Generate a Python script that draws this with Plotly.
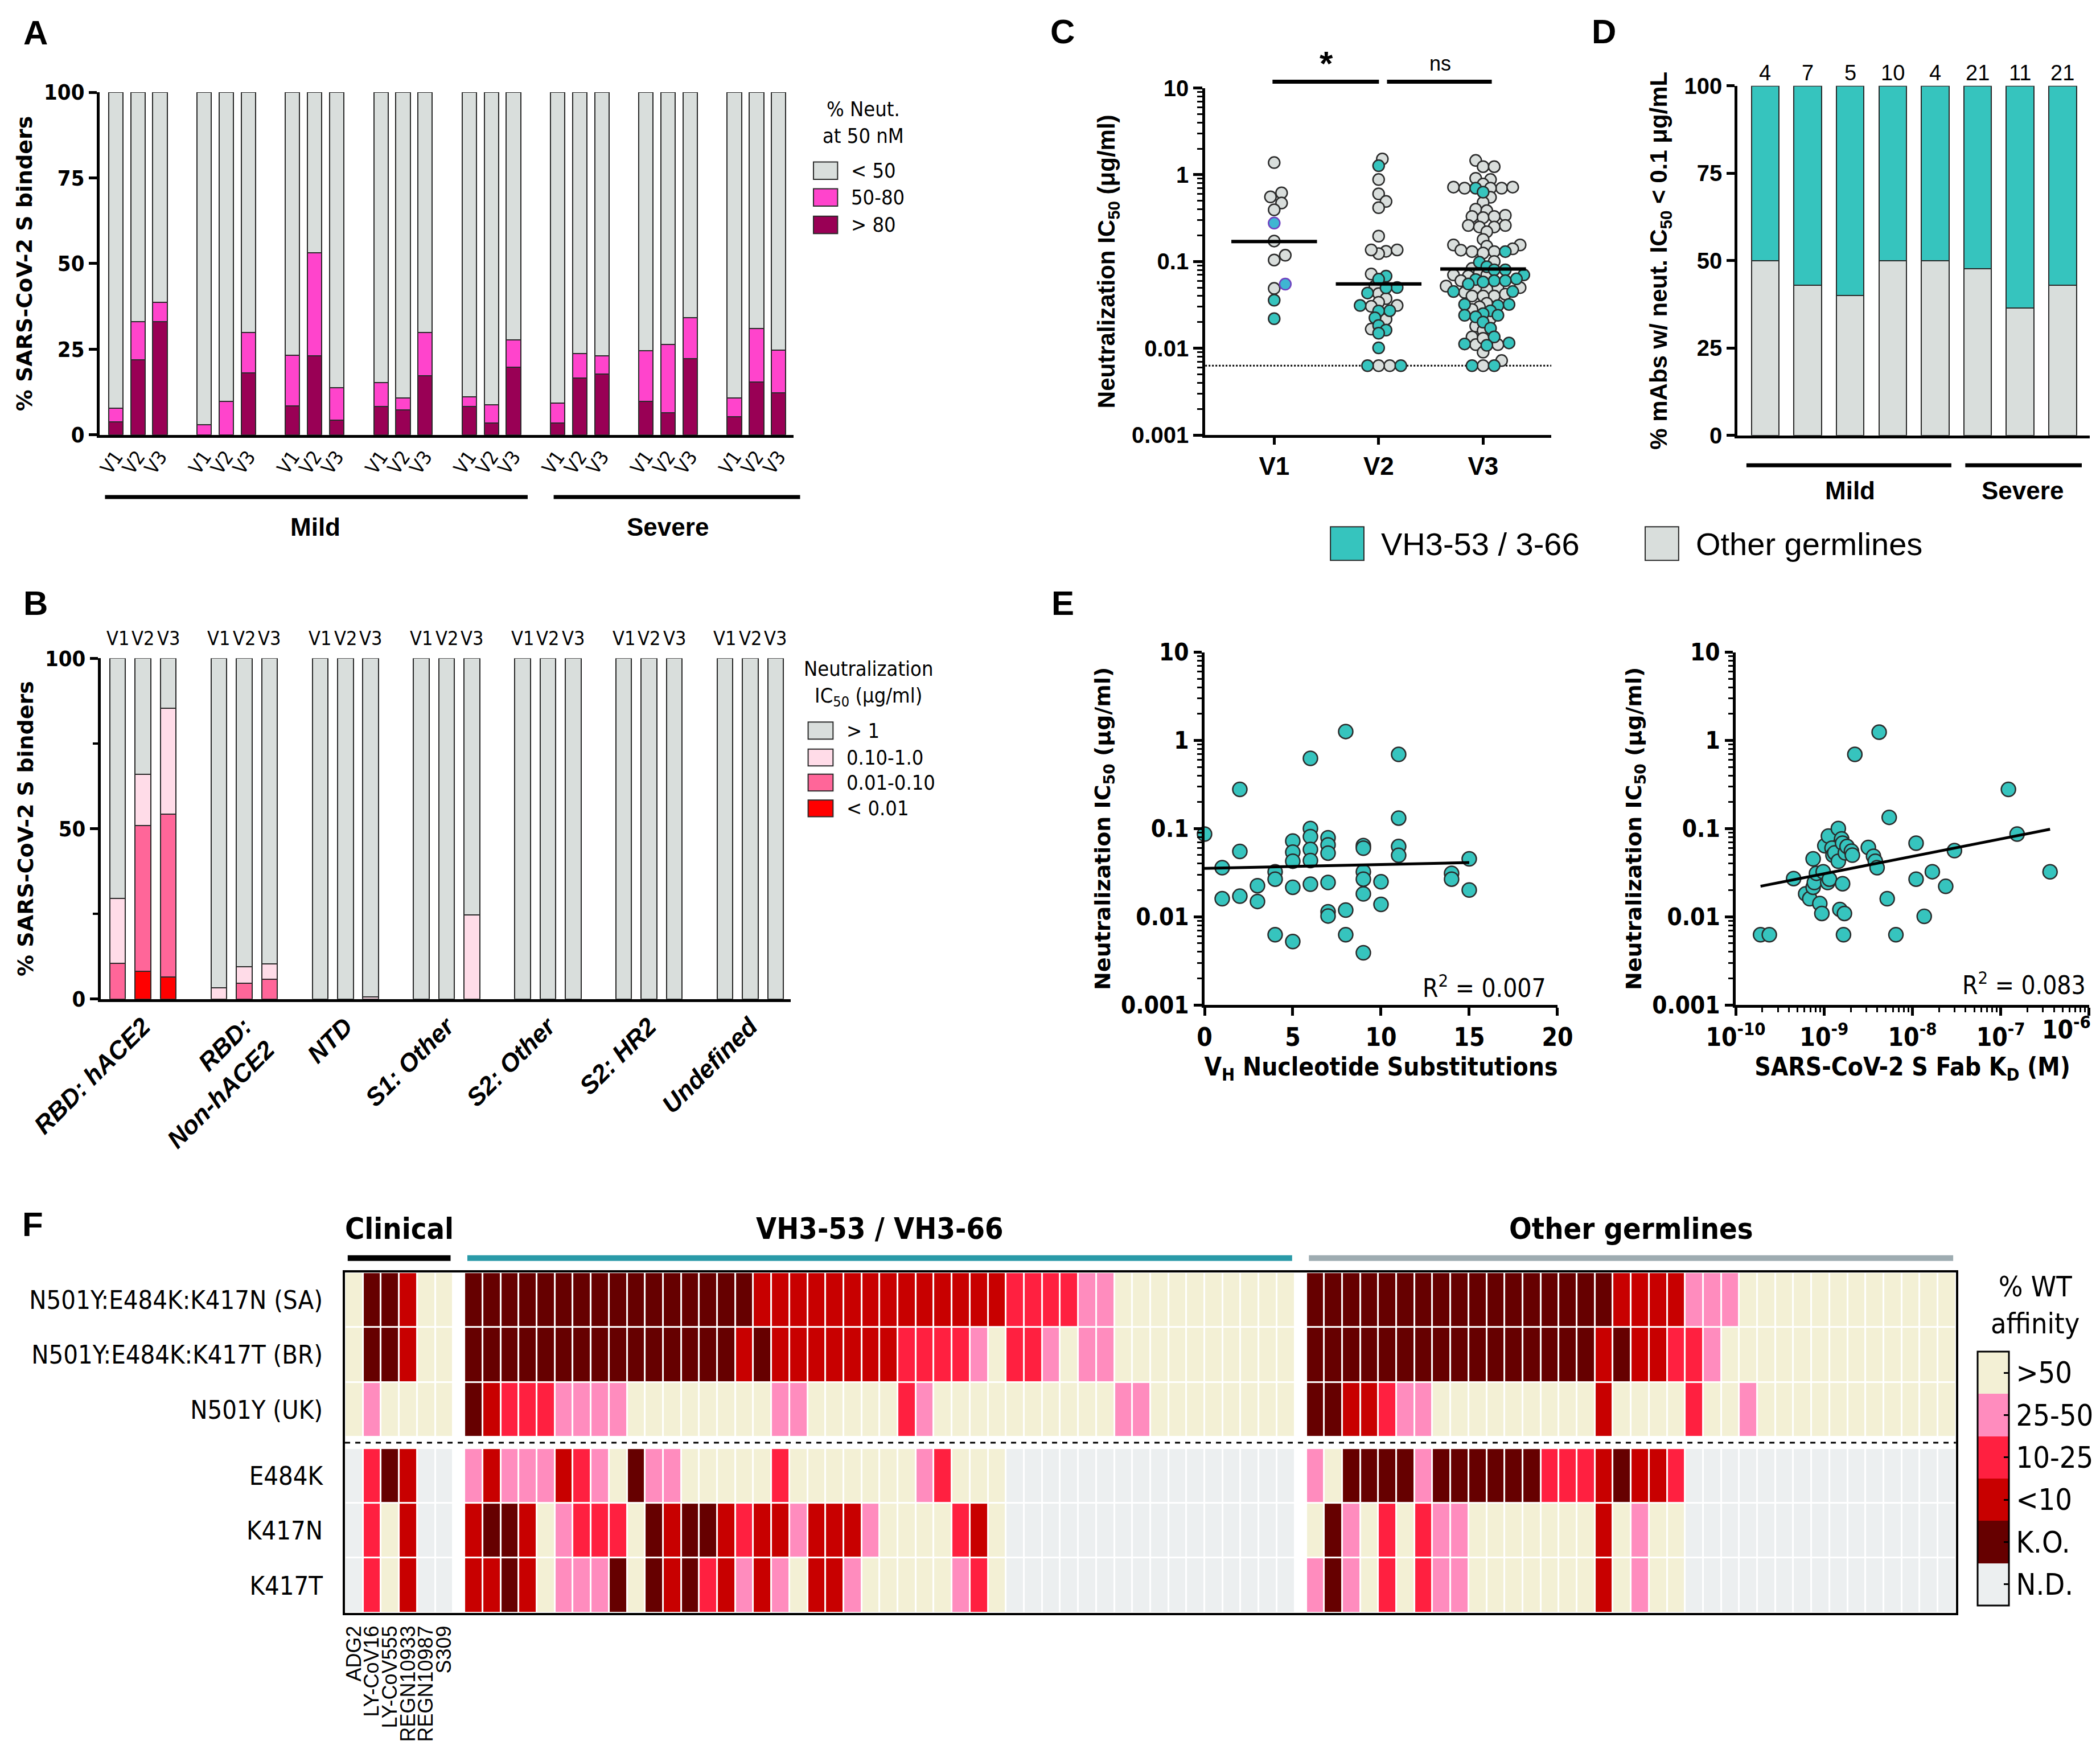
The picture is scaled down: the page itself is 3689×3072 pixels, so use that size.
import numpy as np
import plotly.graph_objects as go

W, H = 3689, 3072
SW, SH = 1568.0, 1306.0


def PX(x):
    return x / SW


def PY(y):
    return 1 - y / SH


COND = "Liberation Sans Narrow, DejaVu Sans Condensed, Arial Narrow, sans-serif"
SANS = "Liberation Sans, Arial, Helvetica, sans-serif"
WIDE = "DejaVu Sans, Verdana, sans-serif"

GREY = "#D9DEDC"
TEAL = "#36C4BE"
EDGE = "#2a2a2a"

# ---------------- Panel A data ----------------
a_visits = ["V1", "V2", "V3"]
a_n_groups = 8
a_gt80 = [3.8, 21.9, 33.1, 0.0, 0.0, 18.0, 8.5, 23.1, 4.3, 8.3, 7.2, 17.2,
          8.2, 3.4, 19.7, 3.5, 16.5, 17.7, 9.8, 6.4, 22.3, 5.2, 15.4, 12.3]
a_50_80 = [3.9, 11.2, 5.6, 2.9, 9.7, 11.8, 14.7, 30.1, 9.4, 6.9, 3.6, 12.6,
           2.9, 5.3, 8.0, 5.7, 7.2, 5.4, 14.8, 20.0, 11.9, 5.6, 15.7, 12.4]
a_colors = {"lt50": GREY, "50-80": "#FF44CC", "gt80": "#990055"}

# ---------------- Panel B data ----------------
b_categories = ["RBD: hACE2", "RBD:<br>Non-hACE2", "NTD", "S1: Other",
                "S2: Other", "S2: HR2", "Undefined"]
b_lt001 = [0, 8.2, 6.4, 0, 0, 0, 0, 0, 0, 0, 0, 0, 0, 0, 0, 0, 0, 0, 0, 0, 0]
b_001_01 = [10.5, 42.7, 47.8, 0, 4.7, 5.8, 0, 0, 0, 0, 0, 0, 0, 0, 0, 0, 0, 0, 0, 0, 0]
b_01_1 = [19.1, 15.0, 31.2, 3.3, 4.8, 4.6, 0, 0, 0.6, 0, 0, 24.7, 0, 0, 0, 0, 0, 0, 0, 0, 0]
b_colors = {"gt1": GREY, "01-1": "#FFDCE8", "001-01": "#FF6699", "lt001": "#FF0000"}

# ---------------- Panel C data ----------------
c_visits = ["V1", "V2", "V3"]
c_grey = [
    [1.38, 0.556, 0.618, 0.472, 0.394, 0.172, 0.118, 0.104, 0.0489],
    [1.52, 0.88, 0.602, 0.492, 0.417, 0.196, 0.131, 0.136, 0.123, 0.136, 0.0718,
     0.0521, 0.0426, 0.0373, 0.0338, 0.0304, 0.0311, 0.0216, 0.0166, 0.0063, 0.0063],
    [1.46, 1.24, 1.24, 0.91, 0.88, 0.72, 0.70, 0.70, 0.78, 0.70, 0.72, 0.55, 0.48,
     0.40, 0.385, 0.34, 0.33, 0.32, 0.33, 0.26, 0.26, 0.25, 0.25, 0.22, 0.18, 0.155,
     0.15, 0.155, 0.14, 0.135, 0.13, 0.13, 0.125, 0.10, 0.083, 0.075, 0.07, 0.07,
     0.068, 0.06, 0.052, 0.05, 0.05, 0.048, 0.05, 0.044, 0.04, 0.042, 0.04, 0.04,
     0.033, 0.03, 0.028, 0.022, 0.018, 0.016, 0.0135, 0.011, 0.011, 0.013, 0.009,
     0.0072, 0.0063],
]
c_teal = [
    [0.0358, 0.0219],
    [1.27, 0.0678, 0.0625, 0.0501, 0.0497, 0.0433, 0.0311, 0.0271, 0.0269, 0.0224,
     0.0183, 0.0162, 0.0149, 0.0101, 0.0063, 0.0063],
    [0.70, 0.63, 0.13, 0.098, 0.087, 0.08, 0.08, 0.07, 0.063, 0.06, 0.06, 0.062,
     0.058, 0.055, 0.045, 0.045, 0.032, 0.032, 0.031, 0.027, 0.025, 0.024, 0.024,
     0.023, 0.02, 0.017, 0.0115, 0.0112, 0.0135, 0.0108, 0.0063, 0.0063],
]
c_blue = [[0.277, 0.0548], [], []]
c_medians = [0.17, 0.055, 0.082]
c_lod = 0.0063

# ---------------- Panel D data ----------------
d_n = [4, 7, 5, 10, 4, 21, 11, 21]
d_other_pct = [50.0, 42.9, 40.0, 50.0, 50.0, 47.6, 36.4, 42.9]

# ---------------- Panel E data ----------------
e_subs = [0, 1, 1, 2, 2, 2, 3, 3, 4, 4, 4, 5, 5, 5, 5, 5, 6, 6, 6, 6, 6, 6, 7, 7, 7, 7,
          7, 7, 8, 8, 8, 9, 9, 9, 9, 9, 9, 10, 10, 11, 11, 11, 11, 14, 14, 15, 15]
e_ic50_subs = [0.0865, 0.036, 0.016, 0.278, 0.055, 0.0171, 0.0225, 0.0149, 0.0324,
               0.0267, 0.00625, 0.0723, 0.054, 0.0426, 0.0216, 0.00524, 0.625, 0.1,
               0.081, 0.058, 0.0434, 0.0234, 0.0787, 0.0653, 0.0527, 0.0245, 0.0114,
               0.0102, 1.26, 0.0119, 0.00625, 0.064, 0.0599, 0.0324, 0.0267, 0.0182,
               0.0039, 0.0249, 0.0138, 0.693, 0.1315, 0.0626, 0.0497, 0.0311, 0.0267,
               0.0453, 0.0201]
e_kd = [1.91e-10, 2.40e-10, 4.52e-10, 6.19e-10, 6.89e-10, 7.52e-10, 7.52e-10, 7.76e-10,
        8.20e-10, 8.95e-10, 9.44e-10, 9.77e-10, 1.02e-9, 1.10e-9, 1.12e-9, 1.15e-9,
        1.23e-9, 1.26e-9, 1.32e-9, 1.45e-9, 1.45e-9, 1.51e-9, 1.58e-9, 1.62e-9, 1.62e-9,
        1.66e-9, 1.70e-9, 1.74e-9, 1.82e-9, 2.04e-9, 2.23e-9, 2.09e-9, 3.17e-9, 3.63e-9,
        3.80e-9, 3.98e-9, 4.20e-9, 5.18e-9, 5.46e-9, 6.50e-9, 1.10e-8, 1.10e-8, 1.36e-8,
        1.68e-8, 2.38e-8, 2.99e-8, 1.22e-7, 1.53e-7, 3.61e-7]
e_ic50_kd = [0.00625, 0.00625, 0.0271, 0.0182, 0.016, 0.0453, 0.0216, 0.0245, 0.0311,
             0.0141, 0.0109, 0.0324, 0.0638, 0.0245, 0.0823, 0.0267, 0.06, 0.05, 0.053,
             0.1, 0.0426, 0.0121, 0.0763, 0.0683, 0.0237, 0.00625, 0.0109, 0.053, 0.0626,
             0.0555, 0.693, 0.05, 0.0611, 0.0485, 0.0426, 0.036, 1.24, 0.016, 0.134,
             0.00625, 0.0683, 0.0267, 0.0101, 0.0324, 0.0221, 0.0562, 0.278, 0.0865, 0.0323]
e_r2 = ["0.007", "0.083"]
e_kd_ticks = [1e-10, 1e-9, 1e-8, 1e-7, 1e-6]
e_kd_ticktext = ["10<sup>-10</sup>", "10<sup>-9</sup>", "10<sup>-8</sup>",
                 "10<sup>-7</sup>", "10<sup>-6</sup>"]

# ---------------- Panel F data ----------------
f_rows = ["N501Y:E484K:K417N (SA)", "N501Y:E484K:K417T (BR)", "N501Y (UK)",
          "E484K", "K417N", "K417T"]
f_clinical_names = ["ADG2", "LY-CoV16", "LY-CoV555", "REGN10933", "REGN10987", "S309"]
f_groups = ["Clinical", "VH3-53 / VH3-66", "Other germlines"]
f_levels = ["N.D.", "K.O.", "&lt;10", "10-25", "25-50", "&gt;50"]
f_level_colors = ["#ECEFF0", "#660000", "#C80000", "#FF2040", "#FF8CBE", "#F3F0D5"]

clin_SA = [5, 1, 1, 2, 5, 5]
clin_BR = [5, 1, 1, 2, 5, 5]
clin_UK = [5, 4, 5, 5, 5, 5]
clin_E484K = [0, 3, 1, 2, 0, 0]
clin_K417N = [0, 3, 5, 2, 0, 0]
clin_K417T = [0, 3, 5, 2, 0, 0]

vh3_SA = [1, 1, 1, 1, 1, 1, 1, 1, 1, 1, 1, 1, 1, 1, 1, 1, 2, 2, 2, 2, 2, 2, 2, 2, 2, 2, 2,
          2, 2, 2, 3, 3, 3, 3, 4, 4, 5, 5, 5, 5, 5, 5, 5, 5, 5, 5]
vh3_BR = [1, 1, 1, 1, 1, 1, 1, 1, 1, 1, 1, 1, 1, 1, 1, 2, 1, 2, 2, 2, 2, 2, 2, 2, 3, 3, 3,
          3, 4, 5, 3, 3, 4, 5, 4, 4, 5, 5, 5, 5, 5, 5, 5, 5, 5, 5]
vh3_UK = [1, 2, 3, 3, 3, 4, 4, 4, 4, 5, 5, 5, 5, 5, 5, 5, 5, 4, 4, 5, 5, 5, 5, 5, 3, 4, 5,
          5, 5, 5, 5, 5, 5, 5, 5, 5, 4, 4, 5, 5, 5, 5, 5, 5, 5, 5]
vh3_E484K = [4, 2, 4, 4, 4, 2, 3, 4, 5, 1, 4, 4, 5, 5, 5, 5, 5, 3, 5, 5, 5, 5, 5, 5, 5, 4,
             3, 5, 5, 5, 0, 0, 0, 0, 0, 0, 0, 0, 0, 0, 0, 0, 0, 0, 0, 0]
vh3_K417N = [2, 1, 1, 2, 5, 4, 3, 3, 3, 5, 1, 2, 1, 1, 2, 3, 2, 2, 4, 2, 2, 2, 4, 5, 5, 5,
             5, 3, 2, 5, 0, 0, 0, 0, 0, 0, 0, 0, 0, 0, 0, 0, 0, 0, 0, 0]
vh3_K417T = [2, 2, 1, 2, 5, 4, 4, 4, 1, 5, 1, 2, 1, 3, 2, 4, 2, 4, 5, 2, 2, 4, 5, 5, 5, 5,
             5, 4, 3, 5, 0, 0, 0, 0, 0, 0, 0, 0, 0, 0, 0, 0, 0, 0, 0, 0]

oth_SA = [1, 1, 1, 1, 1, 1, 1, 1, 1, 1, 1, 1, 1, 1, 1, 1, 1, 2, 2, 2, 2, 4, 4, 4, 5, 5, 5,
          5, 5, 5, 5, 5, 5, 5, 5, 5]
oth_BR = [1, 1, 1, 1, 1, 1, 1, 1, 1, 1, 1, 1, 1, 1, 1, 1, 2, 1, 2, 2, 3, 3, 4, 5, 5, 5, 5,
          5, 5, 5, 5, 5, 5, 5, 5, 5]
oth_UK = [1, 1, 2, 2, 3, 4, 4, 5, 5, 5, 5, 5, 5, 5, 5, 5, 2, 5, 5, 5, 5, 3, 5, 5, 4, 5, 5,
          5, 5, 5, 5, 5, 5, 5, 5, 5]
oth_E484K = [4, 5, 1, 1, 1, 1, 4, 1, 1, 1, 1, 1, 1, 3, 3, 3, 2, 1, 2, 2, 3, 0, 0, 0, 0, 0,
             0, 0, 0, 0, 0, 0, 0, 0, 0, 0]
oth_K417N = [5, 1, 4, 5, 3, 5, 3, 4, 4, 5, 5, 5, 5, 5, 5, 5, 2, 5, 4, 5, 5, 0, 0, 0, 0, 0,
             0, 0, 0, 0, 0, 0, 0, 0, 0, 0]
oth_K417T = [4, 1, 4, 5, 3, 5, 3, 4, 4, 5, 5, 5, 5, 5, 5, 5, 2, 5, 4, 5, 5, 0, 0, 0, 0, 0,
             0, 0, 0, 0, 0, 0, 0, 0, 0, 0]

# =====================================================================
fig = go.Figure()


def ax_common(**kw):
    d = dict(showline=True, linecolor="black", linewidth=5, ticks="outside",
             tickwidth=5, ticklen=14, tickcolor="black", showgrid=False,
             zeroline=False, automargin=False)
    d.update(kw)
    return d


# ---------------- Panel A ----------------
a_x = [4 * g + b for g in range(a_n_groups) for b in range(len(a_visits))]
a_lt50 = [100 - p - q for p, q in zip(a_gt80, a_50_80)]
for vals, col in [(a_gt80, a_colors["gt80"]), (a_50_80, a_colors["50-80"]),
                  (a_lt50, a_colors["lt50"])]:
    fig.add_trace(go.Bar(x=a_x, y=vals, width=0.65, marker_color=col,
                         marker_line=dict(color=EDGE, width=2), xaxis="x", yaxis="y",
                         showlegend=False, hoverinfo="skip"))

# ---------------- Panel B ----------------
b_x = [4 * g + b for g in range(len(b_categories)) for b in range(3)]
b_gt1 = [100 - a - b - c for a, b, c in zip(b_lt001, b_001_01, b_01_1)]
for vals, col in [(b_lt001, b_colors["lt001"]), (b_001_01, b_colors["001-01"]),
                  (b_01_1, b_colors["01-1"]), (b_gt1, b_colors["gt1"])]:
    fig.add_trace(go.Bar(x=b_x, y=vals, width=0.62, marker_color=col,
                         marker_line=dict(color=EDGE, width=2), xaxis="x2", yaxis="y2",
                         showlegend=False, hoverinfo="skip"))

# ---------------- Panel C ----------------
C_XRANGE = [-0.66, 2.654]
C_XPX = (1155 - 896.5) * (W / SW) / (C_XRANGE[1] - C_XRANGE[0])
C_YPX = (321.4 - 62.3) * (H / SH) / 4.0

# detection-limit dotted line first (drawn beneath the points)
fig.add_trace(go.Scatter(x=C_XRANGE, y=[c_lod, c_lod], mode="lines",
                         line=dict(color="black", width=3, dash="dot"),
                         xaxis="x3", yaxis="y3", showlegend=False, hoverinfo="skip"))


def beeswarm(values, d=13.5, step=6.5):
    vals = np.asarray(values, dtype=float)
    order = np.argsort(vals)
    placed = []
    offs = np.zeros(len(vals))
    cands = [0.0]
    for k in range(1, 80):
        cands += [k * step, -k * step]
    for i in order:
        yv = np.log10(vals[i]) * C_YPX
        chosen = 0.0
        for c in cands:
            if all((c - px) ** 2 + (yv - py) ** 2 >= d * d for px, py in placed):
                chosen = c
                break
        placed.append((chosen, yv))
        offs[i] = chosen / C_XPX
    return offs


for gi in range(3):
    allv = c_grey[gi] + c_teal[gi] + c_blue[gi]
    offs = beeswarm(allv, d=17.0 if gi == 0 else 13.5)
    ng, nt = len(c_grey[gi]), len(c_teal[gi])
    sets = [(c_grey[gi], offs[:ng], GREY, EDGE),
            (c_teal[gi], offs[ng:ng + nt], TEAL, EDGE),
            (c_blue[gi], offs[ng + nt:], "#3FB5D2", "#7040C0")]
    for vals, of, fc, lc in sets:
        if len(vals) == 0:
            continue
        fig.add_trace(go.Scatter(x=[gi + o for o in of], y=vals, mode="markers",
                                 marker=dict(size=20, color=fc, line=dict(color=lc, width=2.5)),
                                 xaxis="x3", yaxis="y3", showlegend=False,
                                 hoverinfo="skip", cliponaxis=False))
    fig.add_trace(go.Scatter(x=[gi - 0.41, gi + 0.41], y=[c_medians[gi]] * 2, mode="lines",
                             line=dict(color="black", width=6), xaxis="x3", yaxis="y3",
                             showlegend=False, hoverinfo="skip"))

# ---------------- Panel D ----------------
d_x = list(range(len(d_n)))
d_teal = [100 - v for v in d_other_pct]
for vals, col in [(d_other_pct, GREY), (d_teal, TEAL)]:
    fig.add_trace(go.Bar(x=d_x, y=vals, width=0.65, marker_color=col,
                         marker_line=dict(color=EDGE, width=2), xaxis="x4", yaxis="y4",
                         showlegend=False, hoverinfo="skip"))

# ---------------- Panel E ----------------
fig.add_trace(go.Scatter(x=e_subs, y=e_ic50_subs, mode="markers",
                         marker=dict(size=25, color=TEAL, line=dict(color=EDGE, width=2.5)),
                         xaxis="x5", yaxis="y5", showlegend=False, hoverinfo="skip",
                         cliponaxis=False))
sl, ic = np.polyfit(np.array(e_subs, float), np.log10(e_ic50_subs), 1)
xs = np.array([min(e_subs), max(e_subs)], float)
fig.add_trace(go.Scatter(x=xs, y=10 ** (ic + sl * xs), mode="lines",
                         line=dict(color="black", width=5), xaxis="x5", yaxis="y5",
                         showlegend=False, hoverinfo="skip"))

fig.add_trace(go.Scatter(x=e_kd, y=e_ic50_kd, mode="markers",
                         marker=dict(size=25, color=TEAL, line=dict(color=EDGE, width=2.5)),
                         xaxis="x6", yaxis="y6", showlegend=False, hoverinfo="skip",
                         cliponaxis=False))
lk = np.log10(e_kd)
sl2, ic2 = np.polyfit(lk, np.log10(e_ic50_kd), 1)
xs2 = np.array([lk.min(), lk.max()])
fig.add_trace(go.Scatter(x=10 ** xs2, y=10 ** (ic2 + sl2 * xs2), mode="lines",
                         line=dict(color="black", width=5), xaxis="x6", yaxis="y6",
                         showlegend=False, hoverinfo="skip"))

# ---------------- Panel F ----------------
GAP = 0.63
rows_top_down = [
    (clin_SA, vh3_SA, oth_SA), (clin_BR, vh3_BR, oth_BR), (clin_UK, vh3_UK, oth_UK),
    (clin_E484K, vh3_E484K, oth_E484K), (clin_K417N, vh3_K417N, oth_K417N),
    (clin_K417T, vh3_K417T, oth_K417T)]
n_cl, n_vh, n_ot = len(clin_SA), len(vh3_SA), len(oth_SA)
x_edges = [0.0]
for n_grp, last in [(n_cl, False), (n_vh, False), (n_ot, True)]:
    for _ in range(n_grp):
        x_edges.append(x_edges[-1] + 1)
    if not last:
        x_edges.append(x_edges[-1] + GAP)
grp_start = [0.0, n_cl + GAP, n_cl + GAP + n_vh + GAP]
grp_end = [n_cl, n_cl + GAP + n_vh, x_edges[-1]]


def build_row(parts):
    c, v, o = parts
    return list(c) + [None] + list(v) + [None] + list(o)


nan_row = [None] * (len(x_edges) - 1)
z = [build_row(rows_top_down[5]), build_row(rows_top_down[4]), build_row(rows_top_down[3]),
     nan_row,
     build_row(rows_top_down[2]), build_row(rows_top_down[1]), build_row(rows_top_down[0])]
ROW_GAP = 0.2
y_edges = [0, 1, 2, 3, 3 + ROW_GAP, 4 + ROW_GAP, 5 + ROW_GAP, 6 + ROW_GAP]
y_centers = [0.5, 1.5, 2.5, 3.5 + ROW_GAP, 4.5 + ROW_GAP, 5.5 + ROW_GAP]

nlev = len(f_level_colors)
cscale = []
for i, c in enumerate(f_level_colors):
    cscale.append([i / nlev, c])
    cscale.append([(i + 1) / nlev, c])

fig.add_trace(go.Heatmap(
    x=x_edges, y=y_edges, z=z, colorscale=cscale, zmin=-0.5, zmax=nlev - 0.5,
    xgap=3, ygap=3, xaxis="x7", yaxis="y7", hoverinfo="skip",
    colorbar=dict(tickvals=list(range(nlev)), ticktext=f_levels, ticks="inside",
                  ticklen=10, tickwidth=3, tickcolor="black",
                  tickfont=dict(family=COND, size=52, color="black"),
                  x=3466 / W, xanchor="left", xpad=0, y=1 - 2589 / H, yanchor="middle",
                  ypad=0, lenmode="pixels", len=446, thicknessmode="pixels", thickness=55,
                  outlinewidth=3, outlinecolor="black")))

# =====================================================================
LOG_MINOR = [m * 10.0 ** k for k in range(-3, 1) for m in range(2, 10)]
TF_BOLD = dict(family=SANS, size=40, color="black", weight="bold")
E_TICKFONT = dict(family=COND, size=44, color="black", weight="bold")

layout = dict(
    width=W, height=H, margin=dict(l=0, r=0, t=0, b=0), autosize=False,
    paper_bgcolor="white", plot_bgcolor="white", barmode="stack", showlegend=False,
    font=dict(family=SANS, color="black"),
    # A
    xaxis=ax_common(domain=[PX(71), PX(589)], range=[-0.73, 30.67], anchor="y",
                    tickvals=a_x, ticktext=a_visits * a_n_groups, tickangle=-55, ticks="",
                    tickfont=dict(family=COND, size=34, color="black")),
    yaxis=ax_common(domain=[PY(321.3), PY(65.5)], range=[0, 100], anchor="x",
                    tickvals=[0, 25, 50, 75, 100],
                    tickfont=dict(family=COND, size=38, color="black", weight="bold"),
                    title=dict(text="% SARS-CoV-2 S binders", standoff=10,
                               font=dict(family=WIDE, size=38, weight="bold"))),
    # B
    xaxis2=ax_common(domain=[PX(71.8), PX(587)], range=[-0.67, 26.6], anchor="y2",
                     tickvals=[4 * g + 1 for g in range(len(b_categories))],
                     ticktext=b_categories, tickangle=-45, ticks="",
                     tickfont=dict(family=SANS, size=44, color="black", weight="bold",
                                   style="italic")),
    yaxis2=ax_common(domain=[PY(742.6), PY(488.2)], range=[0, 100], anchor="x2",
                     tickvals=[0, 50, 100],
                     minor=dict(tickvals=[25, 75], ticks="outside", ticklen=9, tickwidth=4,
                                tickcolor="black"),
                     tickfont=dict(family=COND, size=38, color="black", weight="bold"),
                     title=dict(text="% SARS-CoV-2 S binders", standoff=10,
                                font=dict(family=WIDE, size=38, weight="bold"))),
    # C
    xaxis3=ax_common(domain=[PX(896.5), PX(1155)], range=C_XRANGE, anchor="y3",
                     tickvals=[0, 1, 2], ticktext=c_visits, ticklen=12,
                     tickfont=dict(family=SANS, size=44, color="black", weight="bold")),
    yaxis3=ax_common(domain=[PY(321.4), PY(62.3)], type="log", range=[-3, 1], anchor="x3",
                     tickvals=[0.001, 0.01, 0.1, 1, 10],
                     ticktext=["0.001", "0.01", "0.1", "1", "10"], ticklen=16,
                     minor=dict(tickvals=LOG_MINOR, ticks="outside", ticklen=9, tickwidth=3,
                                tickcolor="black"),
                     tickfont=TF_BOLD,
                     title=dict(text="Neutralization IC<sub>50</sub> (μg/ml)", standoff=18,
                                font=dict(family=SANS, size=42, weight="bold"))),
    # D
    xaxis4=ax_common(domain=[PX(1294), PX(1557)], range=[-0.65, 7.64], anchor="y4",
                     showticklabels=False, ticks=""),
    yaxis4=ax_common(domain=[PY(321.7), PY(60.7)], range=[0, 100], anchor="x4",
                     tickvals=[0, 25, 50, 75, 100], tickfont=TF_BOLD,
                     title=dict(text="% mAbs w/ neut. IC<sub>50</sub> &lt; 0.1 μg/mL",
                                standoff=18, font=dict(family=SANS, size=42, weight="bold"))),
    # E left
    xaxis5=ax_common(domain=[PX(896), PX(1159.5)], range=[0, 20], anchor="y5",
                     tickvals=[0, 5, 10, 15, 20], tickfont=E_TICKFONT,
                     title=dict(text="V<sub>H</sub> Nucleotide Substitutions", standoff=14,
                                font=dict(family=COND, size=44, weight="bold"))),
    yaxis5=ax_common(domain=[PY(747), PY(483.6)], type="log", range=[-3, 1], anchor="x5",
                     tickvals=[0.001, 0.01, 0.1, 1, 10],
                     ticktext=["0.001", "0.01", "0.1", "1", "10"],
                     minor=dict(tickvals=LOG_MINOR, ticks="outside", ticklen=8, tickwidth=3,
                                tickcolor="black"),
                     tickfont=dict(family=COND, size=42, color="black", weight="bold"),
                     title=dict(text="Neutralization IC<sub>50</sub> (μg/ml)", standoff=8,
                                font=dict(family=WIDE, size=38, weight="bold"))),
    # E right (last tick label placed as an annotation so it stays inside the page)
    xaxis6=ax_common(domain=[PX(1292.6), PX(1556.5)], type="log", range=[-10, -6],
                     anchor="y6", tickvals=e_kd_ticks,
                     ticktext=e_kd_ticktext[:-1] + [""],
                     minor=dict(tickvals=[m * 10.0 ** k for k in range(-10, -6)
                                          for m in range(2, 10)],
                                ticks="outside", ticklen=8, tickwidth=3, tickcolor="black"),
                     tickfont=E_TICKFONT,
                     title=dict(text="SARS-CoV-2 S Fab K<sub>D</sub> (M)", standoff=14,
                                font=dict(family=COND, size=44, weight="bold"))),
    yaxis6=ax_common(domain=[PY(747), PY(483.6)], type="log", range=[-3, 1], anchor="x6",
                     tickvals=[0.001, 0.01, 0.1, 1, 10],
                     ticktext=["0.001", "0.01", "0.1", "1", "10"],
                     minor=dict(tickvals=LOG_MINOR, ticks="outside", ticklen=8, tickwidth=3,
                                tickcolor="black"),
                     tickfont=dict(family=COND, size=42, color="black", weight="bold"),
                     title=dict(text="Neutralization IC<sub>50</sub> (μg/ml)", standoff=8,
                                font=dict(family=WIDE, size=38, weight="bold"))),
    # F
    xaxis7=dict(domain=[PX(254.2), PX(1457)], range=[0, x_edges[-1]], anchor="y7",
                showline=True, mirror=True, linecolor="black", linewidth=4, showgrid=False,
                zeroline=False, ticks="", automargin=False, ticklabelstandoff=4,
                tickvals=[i + 0.5 for i in range(n_cl)], ticktext=f_clinical_names,
                tickangle=-90, tickfont=dict(family=SANS, size=36, color="black")),
    yaxis7=dict(domain=[PY(1201), PY(946.8)], range=[0, y_edges[-1]], anchor="x7",
                showline=True, mirror=True, linecolor="black", linewidth=4, showgrid=False,
                zeroline=False, ticks="", automargin=False, ticklabelstandoff=26,
                tickvals=y_centers, ticktext=f_rows[::-1],
                tickfont=dict(family=COND, size=45, color="black")),
)
fig.update_layout(**layout)

shapes = []
ann = []


def pline(x0, x1, y, color="black", width=7, xref="paper"):
    shapes.append(dict(type="line", xref=xref, yref="paper", x0=x0, x1=x1,
                       y0=PY(y), y1=PY(y), line=dict(color=color, width=width)))


def ptext(x, y, text, size, family=SANS, bold=False, xanchor="center"):
    f = dict(family=family, size=size, color="black")
    if bold:
        f["weight"] = "bold"
    ann.append(dict(x=PX(x), y=PY(y), xref="paper", yref="paper",
                    text=text, showarrow=False, font=f, xanchor=xanchor,
                    yanchor="middle"))


# panel letters
for lab, x, y in [("A", 23, 21), ("B", 23, 447), ("C", 790, 20), ("D", 1194, 20),
                  ("E", 790, 447), ("F", 21, 911)]:
    ptext(x, y, lab, 60, bold=True)

# A: Mild/Severe
pline(PX(75), PX(390.6), 367.7)
pline(PX(410), PX(594), 367.7)
ptext(232, 390, "Mild", 44, bold=True)
ptext(495, 390, "Severe", 44, bold=True)


def swatch(x0, x1, y0, y1, col):
    shapes.append(dict(type="rect", xref="paper", yref="paper", x0=PX(x0), x1=PX(x1),
                       y0=PY(y1), y1=PY(y0), fillcolor=col,
                       line=dict(color=EDGE, width=2)))


# A legend
ptext(641, 88, "% Neut.<br>at 50 nM", 36, family=COND)
for (lbl, col), yc in zip([("&lt; 50", a_colors["lt50"]), ("50-80", a_colors["50-80"]),
                           ("&gt; 80", a_colors["gt80"])], [124, 144, 164.5]):
    swatch(604, 622, yc - 6.5, yc + 6.5, col)
    ptext(631, yc, lbl, 36, family=COND, xanchor="left")

# B: visit labels above bars
for xv, lab in zip(b_x, ["V1", "V2", "V3"] * len(b_categories)):
    ann.append(dict(x=xv, y=PY(473), xref="x2", yref="paper", text=lab, showarrow=False,
                    font=dict(family=COND, size=34, color="black"), yanchor="middle"))
ptext(645, 507, "Neutralization<br>IC<sub>50</sub> (μg/ml)", 36, family=COND)
for (lbl, col), (y0, y1) in zip([("&gt; 1", b_colors["gt1"]), ("0.10-1.0", b_colors["01-1"]),
                                 ("0.01-0.10", b_colors["001-01"]),
                                 ("&lt; 0.01", b_colors["lt001"])],
                                [(535.8, 548.5), (556, 568.5), (574.7, 587.2), (594, 606.5)]):
    swatch(600, 618.6, y0, y1, col)
    ptext(628, (y0 + y1) / 2, lbl, 36, family=COND, xanchor="left")

# C: significance bars
shapes.append(dict(type="line", xref="x3", yref="paper", x0=-0.016, x1=1.003,
                   y0=PY(57.6), y1=PY(57.6), line=dict(color="black", width=7)))
shapes.append(dict(type="line", xref="x3", yref="paper", x0=1.08, x1=2.083,
                   y0=PY(57.6), y1=PY(57.6), line=dict(color="black", width=7)))
ann.append(dict(x=0.5, y=PY(44), xref="x3", yref="paper", text="*", showarrow=False,
                yanchor="middle",
                font=dict(family=SANS, size=60, color="black", weight="bold")))
ann.append(dict(x=1.587, y=PY(44), xref="x3", yref="paper", text="ns", showarrow=False,
                yanchor="middle", font=dict(family=SANS, size=36, color="black")))

# D: counts, Mild/Severe
for xv, n in zip(d_x, d_n):
    ann.append(dict(x=xv, y=PY(51), xref="x4", yref="paper", text=str(n), showarrow=False,
                    yanchor="middle", font=dict(family=SANS, size=38, color="black")))
pline(PX(1300.6), PX(1453.6), 344)
pline(PX(1464), PX(1551), 344)
ptext(1378, 363, "Mild", 44, bold=True)
ptext(1507, 363, "Severe", 44, bold=True)

# C/D legend
swatch(990, 1015, 390, 415, TEAL)
ptext(1027, 403, "VH3-53 / 3-66", 56, xanchor="left")
swatch(1225, 1250, 390, 415, GREY)
ptext(1262, 403, "Other germlines", 56, xanchor="left")

# E: R2 and the last KD tick label (right-aligned near the page edge)
ptext(1105, 733, "R<sup>2</sup> = " + e_r2[0], 44, family=COND)
ptext(1508, 731, "R<sup>2</sup> = " + e_r2[1], 44, family=COND)
ann.append(dict(x=0.994, y=PY(747), xref="paper", yref="paper", text=e_kd_ticktext[-1],
                showarrow=False, xanchor="right", yanchor="top", yshift=-10,
                font=E_TICKFONT))

# F: group bars + headers
grp_cols = ["black", "#2A9AA8", "#9EACB1"]
for name, s, e, col in zip(f_groups, grp_start, grp_end, grp_cols):
    shapes.append(dict(type="line", xref="x7", yref="paper", x0=s + 0.15, x1=e - 0.15,
                       y0=PY(936), y1=PY(936), line=dict(color=col, width=10)))
    ann.append(dict(x=(s + e) / 2, y=PY(914), xref="x7", yref="paper", text=name,
                    showarrow=False, yanchor="middle",
                    font=dict(family=COND, size=52, color="black", weight="bold")))
shapes.append(dict(type="line", xref="x7 domain", yref="y7", x0=0, x1=1,
                   y0=3 + ROW_GAP / 2, y1=3 + ROW_GAP / 2,
                   line=dict(color="black", width=3, dash="dash")))
ptext(1516, 971, "% WT<br>affinity", 50, family=COND)

fig.update_layout(shapes=shapes, annotations=ann)
fig.write_html("out.html")
